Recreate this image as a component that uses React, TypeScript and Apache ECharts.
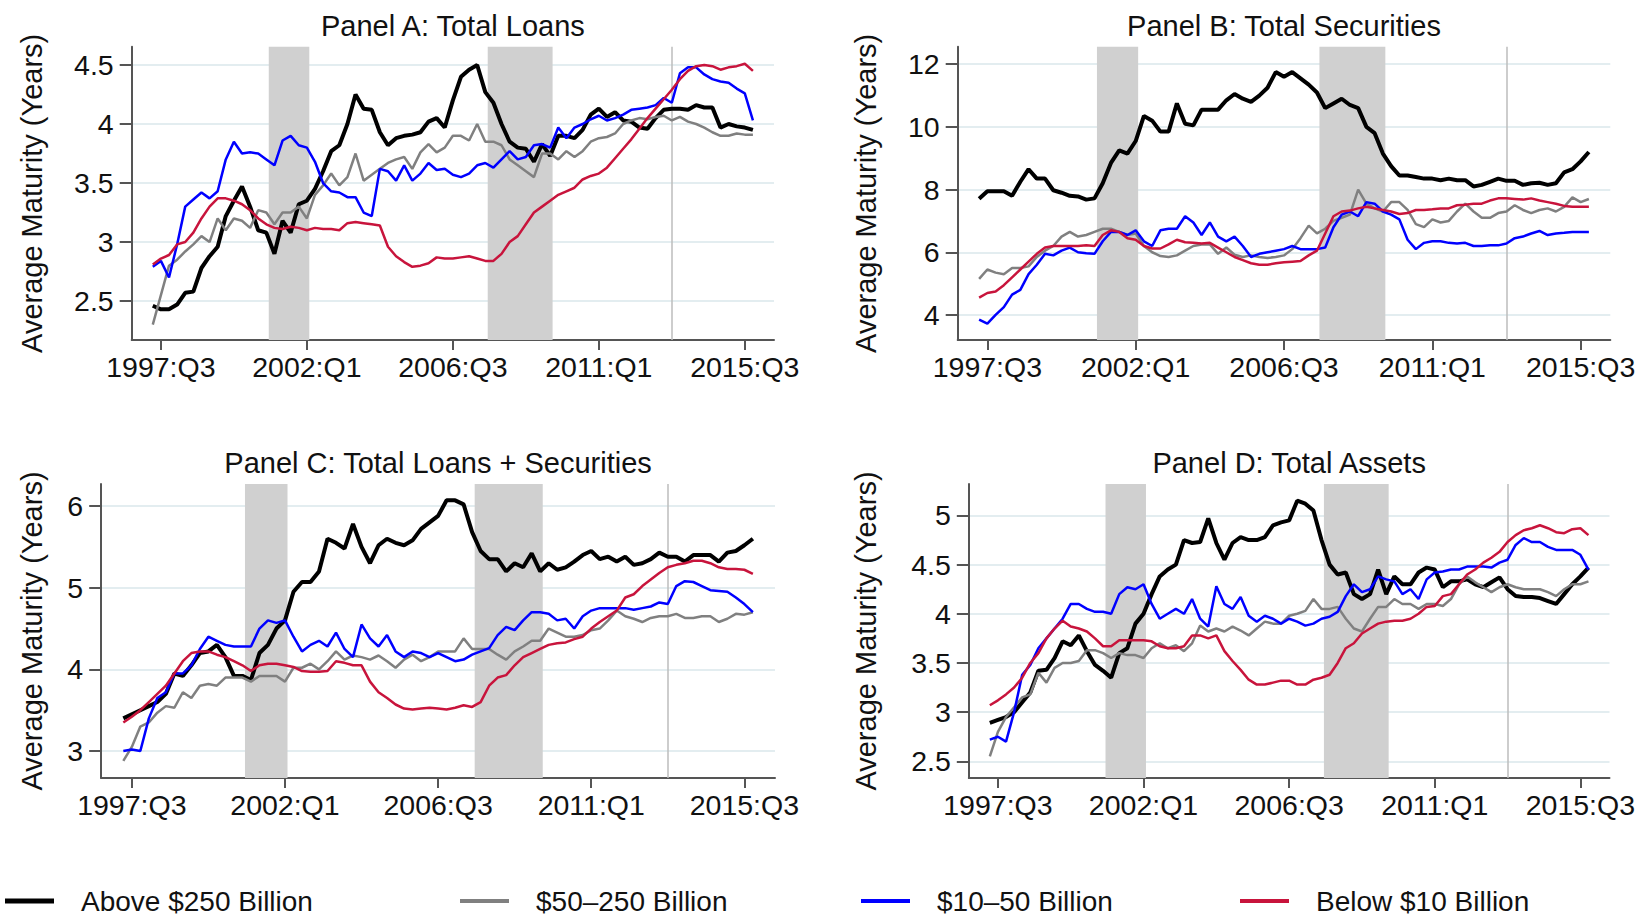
import React, { useEffect, useRef } from 'react';
import * as echarts from 'echarts';

// Quarter index: 0 = 1997:Q3; data runs from 1997:Q2 (-1) to 2015:Q4 (73)
const quarterIndex: number[] = Array.from({ length: 75 }, (_, i) => i - 1);

const xTickValues = [0, 18, 36, 54, 72];
const xTickLabels = ['1997:Q3', '2002:Q1', '2006:Q3', '2011:Q1', '2015:Q3'];

const seriesNames = ['Above $250 Billion', '$50\u2013250 Billion', '$10\u201350 Billion', 'Below $10 Billion'];
const seriesColors = ['#000000', '#808080', '#0000ff', '#c8143c'];
const seriesWidths = [4, 2.5, 2.5, 2.5];

const recessions = [[13.3, 18.3], [40.3, 48.3]];
const verticalMarker = 63;

// Panel A: Total Loans
const loansAbove250 = [2.46,2.43,2.43,2.47,2.57,2.58,2.78,2.88,2.96,3.22, 3.35,3.47,3.3,3.1,3.08,2.9,3.18,3.08,3.32,3.35, 3.45,3.6,3.77,3.82,4.0,4.25,4.13,4.12,3.93,3.82, 3.88,3.9,3.91,3.93,4.02,4.05,3.97,4.2,4.4,4.46, 4.5,4.27,4.18,4.0,3.85,3.8,3.79,3.68,3.83,3.73, 3.9,3.9,3.88,3.95,4.08,4.13,4.06,4.1,4.03,4.02, 3.97,3.96,4.05,4.12,4.13,4.13,4.12,4.16,4.14,4.14, 3.97,4.0,3.98,3.97,3.95];
const loans50to250 = [2.3,2.55,2.8,2.85,2.92,2.98,3.05,3.0,3.2,3.1, 3.2,3.18,3.12,3.27,3.25,3.15,3.25,3.25,3.3,3.2, 3.4,3.48,3.58,3.48,3.55,3.75,3.52,3.57,3.62,3.67, 3.7,3.72,3.62,3.76,3.83,3.76,3.8,3.9,3.9,3.86, 4.0,3.85,3.85,3.82,3.7,3.65,3.6,3.55,3.75,3.75, 3.7,3.77,3.72,3.77,3.85,3.88,3.89,3.92,4.0,4.03, 4.05,4.04,4.06,4.07,4.03,4.06,4.02,4.0,3.97,3.93, 3.9,3.9,3.92,3.91,3.91];
const loans10to50 = [2.79,2.84,2.7,2.98,3.3,3.36,3.42,3.37,3.43,3.7, 3.85,3.75,3.76,3.75,3.7,3.65,3.86,3.9,3.82,3.8, 3.68,3.5,3.43,3.42,3.38,3.38,3.25,3.22,3.62,3.6, 3.52,3.65,3.52,3.58,3.67,3.61,3.62,3.57,3.55,3.58, 3.65,3.67,3.63,3.7,3.77,3.7,3.72,3.82,3.83,3.8, 3.97,3.88,3.97,4.0,4.04,4.07,4.03,4.05,4.08,4.12, 4.13,4.14,4.16,4.22,4.18,4.43,4.48,4.48,4.42,4.38, 4.36,4.35,4.3,4.26,4.03];
const loansBelow10 = [2.81,2.86,2.89,2.98,3.0,3.08,3.2,3.3,3.37,3.37, 3.35,3.32,3.27,3.2,3.15,3.12,3.11,3.13,3.12,3.1, 3.12,3.11,3.11,3.1,3.16,3.17,3.16,3.15,3.14,2.96, 2.88,2.83,2.79,2.8,2.82,2.87,2.86,2.86,2.87,2.88, 2.86,2.84,2.84,2.9,3.0,3.05,3.15,3.25,3.3,3.35, 3.4,3.43,3.46,3.53,3.56,3.58,3.63,3.71,3.79,3.87, 3.96,4.05,4.13,4.21,4.29,4.38,4.45,4.49,4.5,4.49, 4.46,4.48,4.49,4.51,4.45];

// Panel B: Total Securities
const secAbove250 = [7.71,7.95,7.95,7.95,7.8,8.25,8.65,8.35,8.35,7.98, 7.9,7.8,7.78,7.68,7.72,8.2,8.85,9.25,9.15,9.55, 10.35,10.2,9.85,9.85,10.75,10.1,10.05,10.55,10.55,10.55, 10.85,11.05,10.9,10.8,11.0,11.25,11.75,11.6,11.75,11.55, 11.35,11.1,10.6,10.75,10.9,10.7,10.6,10.0,9.8,9.15, 8.75,8.45,8.45,8.4,8.35,8.35,8.3,8.35,8.3,8.3, 8.1,8.15,8.25,8.35,8.28,8.28,8.15,8.2,8.22,8.15, 8.2,8.55,8.65,8.9,9.2];
const sec50to250 = [5.15,5.45,5.35,5.3,5.5,5.5,5.55,5.85,6.05,6.2, 6.5,6.65,6.5,6.55,6.65,6.75,6.75,6.65,6.55,6.6, 6.2,6.0,5.88,5.85,5.9,6.05,6.2,6.25,6.25,5.95, 6.15,5.92,5.85,5.9,5.85,5.82,5.85,5.9,6.1,6.45, 6.85,6.6,6.75,7.0,7.1,7.2,8.0,7.55,7.4,7.3, 7.6,7.6,7.35,6.9,6.8,7.05,6.95,7.0,7.3,7.55, 7.3,7.1,7.1,7.25,7.3,7.5,7.35,7.25,7.35,7.4, 7.3,7.45,7.75,7.6,7.7];
const sec10to50 = [3.85,3.72,4.0,4.25,4.65,4.8,5.3,5.6,5.95,5.9, 6.05,6.15,6.0,5.97,5.95,6.35,6.65,6.65,6.55,6.7, 6.35,6.2,6.7,6.75,6.75,7.15,6.95,6.55,6.95,6.5, 6.35,6.5,6.2,5.85,5.95,6.0,6.05,6.1,6.2,6.1, 6.1,6.1,6.15,6.8,7.2,7.3,7.15,7.6,7.55,7.3, 7.2,7.05,6.4,6.1,6.3,6.35,6.35,6.3,6.28,6.3, 6.2,6.2,6.22,6.22,6.28,6.45,6.5,6.6,6.68,6.55, 6.6,6.62,6.65,6.65,6.65];
const secBelow10 = [4.55,4.7,4.75,4.95,5.2,5.45,5.7,5.95,6.15,6.2, 6.2,6.2,6.2,6.22,6.2,6.55,6.7,6.65,6.45,6.4, 6.2,6.12,6.12,6.25,6.4,6.32,6.3,6.28,6.3,6.15, 6.0,5.85,5.75,5.65,5.6,5.6,5.65,5.68,5.7,5.72, 5.9,6.05,6.6,7.15,7.3,7.33,7.4,7.45,7.4,7.35, 7.3,7.22,7.25,7.35,7.35,7.37,7.4,7.4,7.5,7.52, 7.55,7.55,7.65,7.72,7.72,7.7,7.68,7.72,7.65,7.6, 7.55,7.48,7.45,7.45,7.45];

// Panel C: Total Loans + Securities
const lsAbove250 = [3.4,3.45,3.5,3.55,3.6,3.7,3.95,3.92,4.05,4.2, 4.22,4.3,4.15,3.92,3.92,3.87,4.2,4.3,4.5,4.6, 4.95,5.07,5.07,5.2,5.6,5.55,5.48,5.78,5.5,5.3, 5.52,5.6,5.55,5.52,5.58,5.72,5.8,5.88,6.07,6.07, 6.02,5.68,5.45,5.35,5.35,5.2,5.3,5.25,5.42,5.2, 5.3,5.22,5.25,5.32,5.4,5.45,5.35,5.38,5.32,5.38, 5.28,5.3,5.35,5.43,5.38,5.38,5.32,5.4,5.4,5.4, 5.32,5.43,5.45,5.52,5.6];
const ls50to250 = [2.88,3.05,3.3,3.35,3.47,3.55,3.53,3.72,3.65,3.8, 3.82,3.8,3.9,3.9,3.9,3.85,3.92,3.92,3.92,3.85, 4.02,4.02,4.07,4.0,4.1,4.22,4.12,4.17,4.15,4.12, 4.17,4.1,4.02,4.12,4.18,4.1,4.15,4.22,4.22,4.22, 4.38,4.25,4.25,4.25,4.18,4.12,4.22,4.28,4.35,4.35, 4.5,4.45,4.4,4.4,4.42,4.48,4.5,4.6,4.72,4.65, 4.62,4.58,4.63,4.65,4.65,4.68,4.63,4.63,4.65,4.65, 4.58,4.62,4.68,4.67,4.7];
const ls10to50 = [3.0,3.02,3.0,3.4,3.65,3.72,3.95,3.95,4.05,4.25, 4.4,4.35,4.3,4.28,4.28,4.28,4.5,4.6,4.57,4.6, 4.4,4.22,4.3,4.35,4.28,4.45,4.25,4.15,4.55,4.38, 4.28,4.42,4.22,4.15,4.22,4.2,4.15,4.2,4.15,4.1, 4.12,4.18,4.22,4.26,4.42,4.52,4.48,4.6,4.7,4.7, 4.68,4.6,4.62,4.5,4.65,4.72,4.75,4.75,4.75,4.75, 4.73,4.75,4.77,4.82,4.8,5.02,5.08,5.07,5.02,4.97, 4.96,4.95,4.88,4.8,4.7];
const lsBelow10 = [3.35,3.42,3.5,3.6,3.7,3.8,3.95,4.1,4.2,4.22, 4.22,4.18,4.15,4.1,4.05,3.98,4.05,4.07,4.07,4.05, 4.03,3.98,3.97,3.97,3.98,4.1,4.08,4.05,4.05,3.85, 3.72,3.65,3.57,3.52,3.51,3.52,3.53,3.52,3.51,3.53, 3.56,3.54,3.6,3.8,3.9,3.93,4.05,4.15,4.2,4.25, 4.3,4.32,4.33,4.37,4.4,4.5,4.58,4.65,4.72,4.88, 4.92,5.02,5.1,5.18,5.25,5.28,5.3,5.33,5.33,5.3, 5.25,5.23,5.23,5.22,5.17];

// Panel D: Total Assets
const assetsAbove250 = [2.89,2.92,2.95,3.0,3.1,3.2,3.42,3.43,3.55,3.72, 3.68,3.78,3.62,3.48,3.42,3.35,3.6,3.65,3.9,4.0, 4.2,4.38,4.45,4.5,4.75,4.72,4.73,4.97,4.72,4.55, 4.72,4.78,4.75,4.75,4.78,4.9,4.93,4.95,5.15,5.12, 5.05,4.75,4.5,4.4,4.42,4.2,4.15,4.2,4.45,4.2, 4.38,4.3,4.3,4.42,4.47,4.45,4.27,4.33,4.33,4.35, 4.3,4.27,4.32,4.37,4.25,4.18,4.17,4.17,4.16,4.13, 4.1,4.2,4.3,4.38,4.47];
const assets50to250 = [2.55,2.8,2.95,3.05,3.15,3.18,3.4,3.3,3.45,3.5, 3.5,3.52,3.63,3.63,3.6,3.55,3.6,3.58,3.58,3.55, 3.65,3.7,3.65,3.68,3.62,3.7,3.88,3.82,3.85,3.82, 3.87,3.83,3.78,3.85,3.92,3.9,3.9,3.98,4.0,4.03, 4.15,4.05,4.05,4.07,3.95,3.85,3.82,3.95,4.07,4.07, 4.15,4.1,4.1,4.05,4.1,4.1,4.08,4.15,4.3,4.38, 4.32,4.27,4.22,4.27,4.3,4.27,4.25,4.25,4.25,4.22, 4.18,4.25,4.3,4.3,4.33];
const assets10to50 = [2.72,2.75,2.7,3.0,3.38,3.48,3.65,3.75,3.85,3.95, 4.1,4.1,4.05,4.02,4.02,4.0,4.2,4.27,4.25,4.3, 4.1,3.95,4.0,4.05,4.0,4.15,3.95,3.87,4.28,4.1, 4.05,4.17,3.98,3.92,3.98,3.95,3.9,3.95,3.92,3.88, 3.9,3.95,3.97,4.02,4.18,4.3,4.22,4.25,4.38,4.35, 4.33,4.2,4.25,4.15,4.35,4.42,4.43,4.45,4.45,4.48, 4.48,4.48,4.47,4.52,4.55,4.7,4.77,4.73,4.73,4.68, 4.65,4.65,4.65,4.6,4.45];
const assetsBelow10 = [3.07,3.12,3.18,3.25,3.35,3.5,3.6,3.75,3.85,3.93, 3.87,3.85,3.82,3.75,3.67,3.67,3.73,3.73,3.73,3.73, 3.72,3.67,3.65,3.65,3.67,3.78,3.78,3.75,3.78,3.62, 3.52,3.43,3.33,3.28,3.28,3.3,3.32,3.32,3.28,3.28, 3.33,3.35,3.38,3.5,3.65,3.7,3.8,3.85,3.9,3.92, 3.93,3.93,3.95,4.0,4.07,4.08,4.18,4.2,4.3,4.4, 4.45,4.52,4.57,4.63,4.73,4.8,4.85,4.87,4.9,4.87, 4.83,4.82,4.86,4.87,4.8];

const panelTitles = ['Panel A: Total Loans', 'Panel B: Total Securities', 'Panel C: Total Loans + Securities', 'Panel D: Total Assets'];
const panelData = [
  [loansAbove250, loans50to250, loans10to50, loansBelow10],
  [secAbove250, sec50to250, sec10to50, secBelow10],
  [lsAbove250, ls50to250, ls10to50, lsBelow10],
  [assetsAbove250, assets50to250, assets10to50, assetsBelow10],
];
const yTicksA = [2.5, 3, 3.5, 4, 4.5];
const yTicksB = [4, 6, 8, 10, 12];
const yTicksC = [3, 4, 5, 6];
const yTicksD = [2.5, 3, 3.5, 4, 4.5, 5];
const panelYTicks = [yTicksA, yTicksB, yTicksC, yTicksD];
const panelYRange = [[2.17, 4.655], [3.2, 12.56], [2.67, 6.27], [2.33, 5.32]];

// layout (pixels)
const grids = [
  { left: 131.7, top: 46.7, width: 642.3, height: 293.3 },
  { left: 957.7, top: 46.7, width: 652.6, height: 293.3 },
  { left: 101.2, top: 484, width: 673.8, height: 294 },
  { left: 968.8, top: 484, width: 640.7, height: 294 },
];
const nameGaps = [85, 77, 55, 88];
const titleTops = [11, 11, 448, 448];
const legendLefts = [5, 460, 861, 1240];

const FONT = '"Liberation Sans", Arial, Helvetica, sans-serif';
const TEXT_COLOR = '#111111';
const AXIS_COLOR = '#555555';

function buildOption() {
  const xAxes = grids.map((_, p) => ({
    type: 'value',
    gridIndex: p,
    min: -3.6,
    max: 75.6,
    axisLine: { show: true, onZero: false, lineStyle: { color: AXIS_COLOR, width: 2 } },
    axisTick: { show: true, length: 10, customValues: xTickValues, lineStyle: { color: AXIS_COLOR, width: 2 } },
    axisLabel: {
      customValues: xTickValues,
      formatter: (v: number) => {
        const i = xTickValues.indexOf(Math.round(v));
        return i >= 0 ? xTickLabels[i] : '';
      },
      fontSize: 28.5,
      fontFamily: FONT,
      color: TEXT_COLOR,
      margin: 12,
    },
    splitLine: { show: false },
  }));
  const yAxes = grids.map((_, p) => ({
    type: 'value',
    gridIndex: p,
    min: panelYRange[p][0],
    max: panelYRange[p][1],
    name: 'Average Maturity (Years)',
    nameLocation: 'middle',
    nameGap: nameGaps[p],
    nameTextStyle: { fontSize: 29, fontFamily: FONT, color: TEXT_COLOR },
    axisLine: { show: true, onZero: false, lineStyle: { color: AXIS_COLOR, width: 2 } },
    axisTick: { show: true, length: 12, customValues: panelYTicks[p], lineStyle: { color: AXIS_COLOR, width: 2 } },
    axisLabel: {
      customValues: panelYTicks[p],
      fontSize: 28.5,
      fontFamily: FONT,
      color: TEXT_COLOR,
      margin: 18,
    },
    splitLine: { show: true, lineStyle: { color: '#e3edf0', width: 2 } },
  }));
  const series: any[] = [];
  panelData.forEach((sets, p) => {
    sets.forEach((vals, s) => {
      const ser: any = {
        type: 'line',
        name: seriesNames[s],
        xAxisIndex: p,
        yAxisIndex: p,
        data: quarterIndex.map((q, i) => [q, vals[i]]),
        showSymbol: false,
        symbol: 'none',
        color: seriesColors[s],
        lineStyle: { color: seriesColors[s], width: seriesWidths[s] },
        itemStyle: { color: seriesColors[s] },
        z: 2 + s,
        silent: true,
      };
      if (s === 0) {
        ser.markArea = {
          silent: true,
          z: 1,
          itemStyle: { color: '#d0d0d0' },
          data: recessions.map(([a, b]) => [{ xAxis: a }, { xAxis: b }]),
        };
        ser.markLine = {
          silent: true,
          z: 1,
          symbol: ['none', 'none'],
          label: { show: false },
          lineStyle: { color: '#bdbdbd', width: 1.5, type: 'solid' },
          data: [{ xAxis: verticalMarker }],
        };
      }
      series.push(ser);
    });
  });
  return {
    animation: false,
    backgroundColor: '#ffffff',
    textStyle: { fontFamily: FONT },
    title: panelTitles.map((t, p) => ({
      text: t,
      left: grids[p].left + grids[p].width / 2,
      top: titleTops[p],
      textAlign: 'center',
      padding: 0,
      textStyle: { fontSize: 29, fontWeight: 'normal', fontFamily: FONT, color: TEXT_COLOR },
    })),
    legend: seriesNames.map((n, i) => ({
      data: [n],
      left: legendLefts[i],
      top: 887,
      padding: 0,
      icon: 'rect',
      itemWidth: 49,
      itemHeight: i === 0 ? 5 : 4,
      selectedMode: false,
      textStyle: { fontSize: 28, fontFamily: FONT, color: TEXT_COLOR, padding: [0, 0, 0, 22] },
    })),
    grid: grids.map((g) => ({ ...g, containLabel: false })),
    xAxis: xAxes,
    yAxis: yAxes,
    series,
  };
}

export default function App() {
  const ref = useRef<HTMLDivElement>(null);
  useEffect(() => {
    if (!ref.current) return;
    const chart = echarts.init(ref.current, undefined, { renderer: 'svg' });
    chart.setOption(buildOption() as any);
    return () => chart.dispose();
  }, []);
  return (
    <div
      ref={ref}
      style={{ position: 'absolute', left: 0, top: 0, width: 1640, height: 915, background: '#fff' }}
    />
  );
}
